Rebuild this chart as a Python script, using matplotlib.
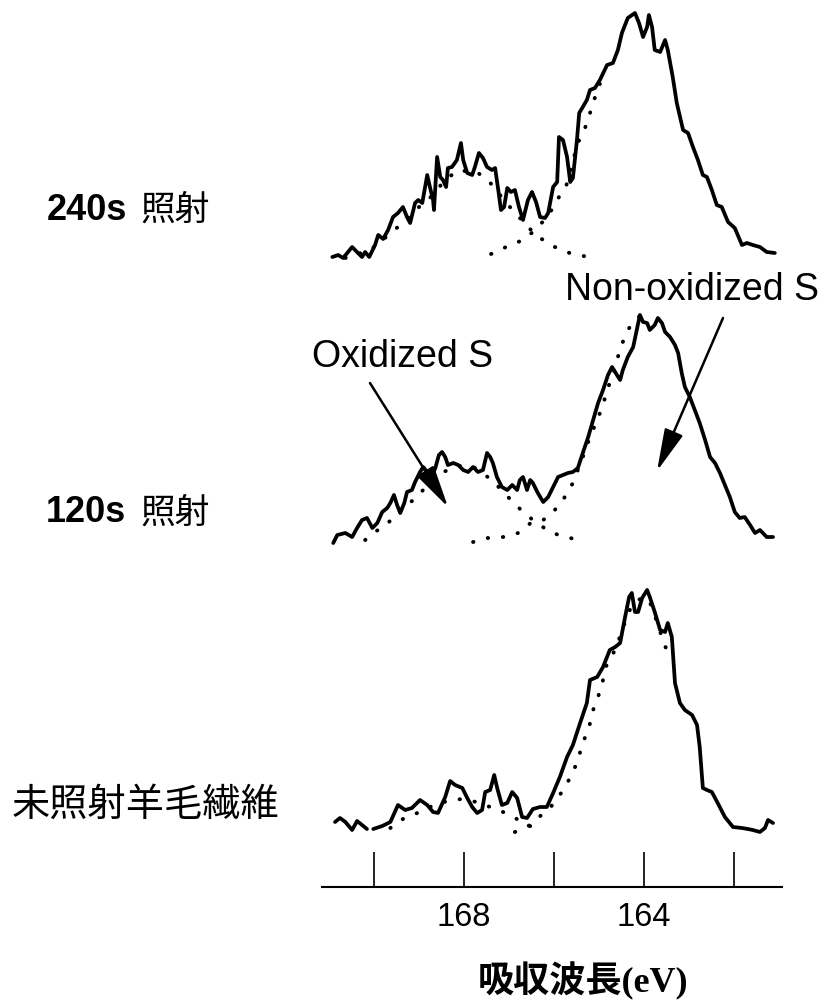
import numpy as np
import matplotlib
matplotlib.use("Agg")
import matplotlib.pyplot as plt

# ---------------- data (binding energy in eV, intensity in a.u.) ----------------
top_ev = [170.93, 170.80, 170.69, 170.49, 170.36, 170.27, 170.20, 170.11, 169.98, 169.91,
          169.80, 169.69, 169.58, 169.47, 169.36, 169.27, 169.20, 169.09, 169.02, 168.93,
          168.82, 168.76, 168.69, 168.67, 168.60, 168.53, 168.47, 168.40, 168.36, 168.27,
          168.16, 168.07, 168.02, 167.93, 167.82, 167.76, 167.67, 167.58, 167.49, 167.38,
          167.31, 167.24, 167.18, 167.11, 167.04, 166.96, 166.87, 166.78, 166.69, 166.58,
          166.49, 166.40, 166.31, 166.20, 166.13, 166.02, 165.93, 165.89, 165.80, 165.71,
          165.64, 165.58, 165.49, 165.44, 165.36, 165.27, 165.20, 165.09, 164.98, 164.82,
          164.69, 164.58, 164.49, 164.36, 164.20, 164.11, 164.02, 163.93, 163.89, 163.82,
          163.76, 163.64, 163.53, 163.47, 163.36, 163.27, 163.13, 163.02, 162.91, 162.80,
          162.69, 162.60, 162.49, 162.38, 162.27, 162.13, 161.98, 161.82, 161.71, 161.58,
          161.42, 161.27, 161.09]
top_int = [3, 5, 2, 13, 7, 3, 8, 3, 15, 25,
           21, 30, 43, 47, 53, 43, 37, 57, 60, 57,
           85, 73, 60, 50, 103, 83, 80, 73, 92, 93,
           100, 117, 100, 87, 85, 93, 107, 102, 93, 90,
           92, 70, 50, 53, 72, 68, 70, 53, 40, 60,
           68, 58, 43, 42, 47, 73, 78, 123, 120, 103,
           78, 82, 120, 147, 153, 160, 170, 172, 180, 195,
           197, 210, 227, 242, 247, 237, 223, 233, 245, 233,
           210, 208, 220, 210, 183, 157, 130, 127, 113, 100,
           85, 83, 70, 55, 53, 38, 32, 15, 17, 15,
           13, 8, 7]
top_ox_ev = [170.64, 170.09, 169.76, 169.56, 169.38, 168.98, 168.76, 168.42, 168.13, 167.69,
             167.47, 167.20, 166.98, 166.84, 166.56, 166.31, 165.98, 165.60, 165.22]
top_ox_int = [2, 10, 22, 30, 36, 54, 62, 80, 90, 87,
              80, 65, 53, 46, 32, 22, 13, 6, 3]
top_nox_ev = [167.40, 167.02, 166.69, 166.36, 166.02, 165.89, 165.73, 165.47, 165.31,
              165.22, 165.11, 164.98]
top_nox_int = [6, 14, 20, 32, 52, 63, 74, 117, 132,
               144, 160, 176]

mid_ev = [170.91, 170.82, 170.64, 170.49, 170.38, 170.27, 170.16, 170.04, 169.93, 169.82,
          169.71, 169.64, 169.56, 169.49, 169.42, 169.33, 169.27, 169.16, 169.09, 168.98,
          168.91, 168.82, 168.71, 168.64, 168.56, 168.49, 168.42, 168.36, 168.24, 168.13,
          168.02, 167.91, 167.80, 167.69, 167.58, 167.49, 167.42, 167.36, 167.27, 167.16,
          167.04, 166.93, 166.82, 166.76, 166.69, 166.60, 166.53, 166.47, 166.36, 166.24,
          166.13, 166.02, 165.91, 165.80, 165.69, 165.58, 165.47, 165.36, 165.24, 165.13,
          165.02, 164.91, 164.80, 164.71, 164.60, 164.53, 164.47, 164.36, 164.24, 164.16,
          164.09, 164.02, 163.93, 163.87, 163.76, 163.69, 163.60, 163.53, 163.42, 163.31,
          163.24, 163.16, 163.09, 162.98, 162.87, 162.76, 162.64, 162.53, 162.42, 162.31,
          162.20, 162.09, 161.98, 161.87, 161.76, 161.64, 161.53, 161.42, 161.27, 161.13]
mid_int = [2, 10, 12, 8, 17, 25, 27, 17, 22, 33,
           37, 42, 50, 40, 32, 42, 53, 55, 63, 73,
           78, 73, 70, 77, 90, 93, 88, 80, 82, 80,
           75, 73, 78, 73, 75, 92, 88, 82, 68, 58,
           55, 60, 55, 65, 68, 55, 65, 62, 52, 43,
           48, 58, 68, 70, 72, 73, 77, 92, 108, 125,
           142, 155, 170, 178, 170, 165, 175, 188, 198, 215,
           230, 223, 222, 215, 220, 227, 222, 213, 208, 200,
           192, 172, 158, 148, 135, 122, 105, 88, 82, 72,
           60, 48, 33, 27, 28, 20, 12, 15, 8, 8]
mid_ox_ev = [170.20, 169.98, 169.69, 169.47, 169.13, 168.91, 168.47, 168.09, 167.76, 167.38,
             166.98, 166.71, 166.47, 166.09, 165.76, 165.31]
mid_ox_int = [5, 13, 22, 33, 45, 55, 73, 79, 77, 65,
              46, 34, 25, 13, 8, 4]
mid_nox_ev = [167.80, 167.47, 167.13, 166.80, 166.49, 166.24, 166.02, 165.80, 165.58, 165.36,
              165.20, 165.04, 164.91, 164.82, 164.69, 164.58, 164.47, 164.36, 164.20, 164.09]
mid_nox_int = [3, 7, 8, 12, 23, 25, 33, 45, 62, 88,
               108, 125, 140, 155, 170, 188, 203, 215, 225, 229]

bot_ev = [170.87, 170.76, 170.64, 170.49, 170.38, 170.27, 170.16, np.nan,
          170.02, 169.82, 169.64, 169.47, 169.31, 169.16, 168.98, 168.82, 168.69, 168.58,
          168.42, 168.31, 168.20, 168.04, 167.93, 167.82, 167.71, 167.60, 167.53, 167.42,
          167.33, 167.27, 167.16, 167.04, 166.93, 166.82, 166.71, 166.60, 166.47, 166.31,
          166.16, 166.02, 165.87, 165.71, 165.58, 165.42, 165.27, 165.20, 165.04, 164.91,
          164.76, 164.64, 164.53, 164.42, 164.33, 164.27, 164.20, 164.13, 164.04, 163.93,
          163.87, 163.76, 163.64, 163.53, 163.47, 163.38, 163.31, 163.20, 163.09, 162.93,
          162.82, 162.76, 162.69, 162.60, 162.49, 162.36, 162.20, 162.02, 161.82, 161.69,
          161.58, 161.42, 161.31, 161.24, 161.13]
bot_int = [13, 17, 13, 5, 14, 10, 6, np.nan,
           6, 9, 13, 30, 25, 27, 35, 30, 23, 22,
           38, 54, 50, 47, 37, 28, 22, 25, 43, 45,
           60, 48, 30, 32, 43, 37, 18, 17, 26, 28,
           28, 42, 58, 78, 90, 112, 132, 155, 158, 168,
           185, 188, 192, 218, 238, 242, 223, 223, 237, 245,
           238, 223, 205, 203, 212, 198, 152, 132, 125, 120,
           110, 88, 47, 45, 43, 32, 18, 8, 7, 6,
           5, 3, 7, 15, 12]
bot_ox_ev = [169.64, 169.36, 169.04, 168.82, 168.53, 168.27, 168.04, 167.73, 167.42, 167.02,
             166.71, 166.36]
bot_ox_int = [7, 16, 22, 27, 32, 35, 36, 33, 28, 21,
              13, 5]
bot_nox_ev = [166.87, 166.53, 166.36, 166.09, 165.87, 165.67, 165.49, 165.36, 165.22, 165.13,
              165.02, 164.91, 164.82, 164.64, 164.42, 164.27, 164.13, 163.98, 163.87, 163.71,
              163.58, 163.47]
bot_nox_int = [3, 10, 17, 27, 40, 55, 72, 92, 108, 125,
               138, 155, 172, 185, 213, 230, 235, 238, 233, 213,
               195, 182]

tick_values = [170, 168, 166, 164, 162]
tick_labels = ["", "168", "", "164", ""]
sample_labels = [("240s", "照射"), ("120s", "照射"), (None, "未照射羊毛繊維")]
xlabel_text = "吸収波長(eV)"
ann_ox = "Oxidized S"
ann_nox = "Non-oxidized S"

# ---------------- figure ----------------
W, H = 827, 1007
fig = plt.figure(figsize=(W / 100, H / 100), dpi=100)
fig.patch.set_facecolor("white")


def fx(px):
    return px / W


def fy(py):
    return 1 - py / H


ax = fig.add_axes([fx(322), 120 / H, 460 / W, 887 / H])
ax.set_xlim(171.16, 160.93)
ax.set_ylim(0, 887)

offsets = {"top": 627, "mid": 342, "bot": 52}
solid_kw = dict(color="black", lw=2.7, solid_joinstyle="round", solid_capstyle="round")
dot_kw = dict(color="black", lw=2.8, linestyle=(0, (0.1, 3.8)), dash_capstyle="round")

for key, ev, inten, comps in [
    ("top", top_ev, top_int, [(top_ox_ev, top_ox_int), (top_nox_ev, top_nox_int)]),
    ("mid", mid_ev, mid_int, [(mid_ox_ev, mid_ox_int), (mid_nox_ev, mid_nox_int)]),
    ("bot", bot_ev, bot_int, [(bot_ox_ev, bot_ox_int), (bot_nox_ev, bot_nox_int)]),
]:
    off = offsets[key]
    for cev, cint in comps:
        ax.plot(cev, np.asarray(cint, float) + off, **dot_kw)
    ax.plot(ev, np.asarray(inten, float) + off, **solid_kw)

for s in ["top", "left", "right"]:
    ax.spines[s].set_visible(False)
ax.spines["bottom"].set_linewidth(1.5)
ax.set_yticks([])
ax.set_xticks(tick_values)
ax.set_xticklabels(tick_labels, fontfamily="Liberation Sans", fontsize=23.5)
ax.tick_params(axis="x", direction="in", length=25, width=1.2, pad=11, colors="black")
ax.patch.set_alpha(0)

# sample labels
fig.text(fx(47), fy(210), sample_labels[0][0], fontfamily="Liberation Sans", fontweight="bold",
         fontsize=26, ha="left", va="center")
fig.text(fx(140), fy(210), sample_labels[0][1], fontfamily="Noto Sans CJK JP",
         fontsize=25, ha="left", va="center")
fig.text(fx(46), fy(513), sample_labels[1][0], fontfamily="Liberation Sans", fontweight="bold",
         fontsize=26, ha="left", va="center")
fig.text(fx(140), fy(513), sample_labels[1][1], fontfamily="Noto Sans CJK JP",
         fontsize=25, ha="left", va="center")
fig.text(fx(12), fy(805), sample_labels[2][1], fontfamily="Noto Sans CJK JP",
         fontsize=27.5, ha="left", va="center")

# x label
fig.text(fx(583), fy(981), xlabel_text, fontfamily=["Liberation Serif", "Noto Sans CJK JP"],
         fontweight="bold", fontsize=26, ha="center", va="center")

# annotations
arrow_kw = dict(arrowstyle="-|>,head_length=1.3,head_width=0.3", color="black", lw=1.8,
                mutation_scale=20, shrinkA=0, shrinkB=0)
fig.text(fx(403), fy(357), ann_ox, fontfamily="Liberation Sans", fontsize=27,
         ha="center", va="center")
ax.annotate("", xy=(fx(448), fy(507)), xycoords="figure fraction",
            xytext=(fx(370), fy(383)), textcoords="figure fraction", arrowprops=arrow_kw)
fig.text(fx(692), fy(290), ann_nox, fontfamily="Liberation Sans", fontsize=27,
         ha="center", va="center")
ax.annotate("", xy=(fx(657), fy(471)), xycoords="figure fraction",
            xytext=(fx(723), fy(318)), textcoords="figure fraction", arrowprops=arrow_kw)

fig.savefig("out.png", dpi=100, facecolor="white")
